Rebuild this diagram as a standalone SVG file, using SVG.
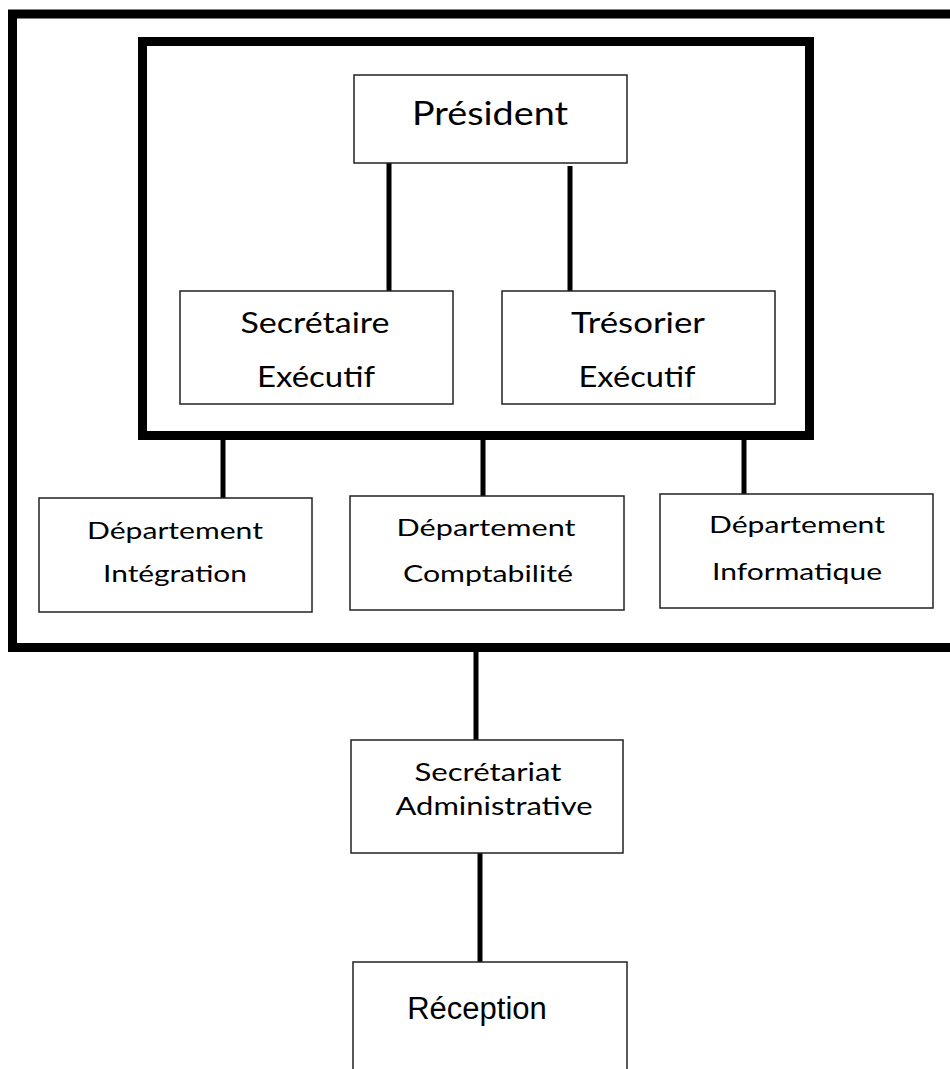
<svg xmlns="http://www.w3.org/2000/svg" width="950" height="1069" viewBox="0 0 950 1069">
<style>
.frame{fill:none;stroke:#000;stroke-width:9}
.box{fill:#fff;stroke:#222;stroke-width:1.5}
.conn{stroke:#000;stroke-width:5;fill:none}
.t{font-family:Lato,"Open Sans",sans-serif;fill:#000;text-anchor:middle}
.a{font-family:"Liberation Sans",Arial,sans-serif;fill:#000;text-anchor:middle}
</style>
<rect width="950" height="1069" fill="#fff"/>
<g id="frames">
<rect class="frame" x="12.5" y="14" width="960" height="633.5"/>
<rect class="frame" x="142.5" y="41.5" width="667" height="394"/>
</g>
<g id="connectors">
<line class="conn" x1="389" y1="163" x2="389" y2="291"/>
<line class="conn" x1="570" y1="166" x2="570" y2="291"/>
<line class="conn" x1="223" y1="440" x2="223" y2="498"/>
<line class="conn" x1="483" y1="440" x2="483" y2="496"/>
<line class="conn" x1="744" y1="440" x2="744" y2="494"/>
<line class="conn" x1="476" y1="652" x2="476" y2="740"/>
<line class="conn" x1="480" y1="848" x2="480" y2="965"/>
</g>
<g id="president"><rect class="box" x="354" y="75" width="273" height="88"/><text class="t" x="490" y="125" font-size="32" textLength="156" lengthAdjust="spacingAndGlyphs">Président</text></g>
<g id="secretaire"><rect class="box" x="180" y="291" width="273" height="113"/><text class="t" x="315" y="333" font-size="29" textLength="149" lengthAdjust="spacingAndGlyphs">Secrétaire</text><text class="t" x="316" y="387" font-size="29" textLength="118" lengthAdjust="spacingAndGlyphs">Exécutif</text></g>
<g id="tresorier"><rect class="box" x="502" y="291" width="273" height="113"/><text class="t" x="638" y="333" font-size="29" textLength="134" lengthAdjust="spacingAndGlyphs">Trésorier</text><text class="t" x="637" y="387" font-size="29" textLength="117" lengthAdjust="spacingAndGlyphs">Exécutif</text></g>
<g id="dept-integration"><rect class="box" x="39" y="498" width="273" height="114"/><text class="t" x="175" y="539" font-size="24" textLength="176" lengthAdjust="spacingAndGlyphs">Département</text><text class="t" x="175" y="582" font-size="24" textLength="144" lengthAdjust="spacingAndGlyphs">Intégration</text></g>
<g id="dept-comptabilite"><rect class="box" x="350" y="496" width="274" height="114"/><text class="t" x="486" y="536" font-size="24" textLength="179" lengthAdjust="spacingAndGlyphs">Département</text><text class="t" x="488" y="582" font-size="24" textLength="170" lengthAdjust="spacingAndGlyphs">Comptabilité</text></g>
<g id="dept-informatique"><rect class="box" x="660" y="494" width="273" height="114"/><text class="t" x="797" y="533" font-size="24" textLength="176" lengthAdjust="spacingAndGlyphs">Département</text><text class="t" x="797" y="580" font-size="24" textLength="170" lengthAdjust="spacingAndGlyphs">Informatique</text></g>
<g id="secretariat"><rect class="box" x="351" y="740" width="272" height="113"/><text class="t" x="488" y="781" font-size="25" textLength="147" lengthAdjust="spacingAndGlyphs">Secrétariat</text><text class="t" x="494" y="815" font-size="25" textLength="197" lengthAdjust="spacingAndGlyphs">Administrative</text></g>
<g id="reception"><rect class="box" x="353" y="962" width="274" height="120"/><text class="a" x="477" y="1019" font-size="31">Réception</text></g>
</svg>
